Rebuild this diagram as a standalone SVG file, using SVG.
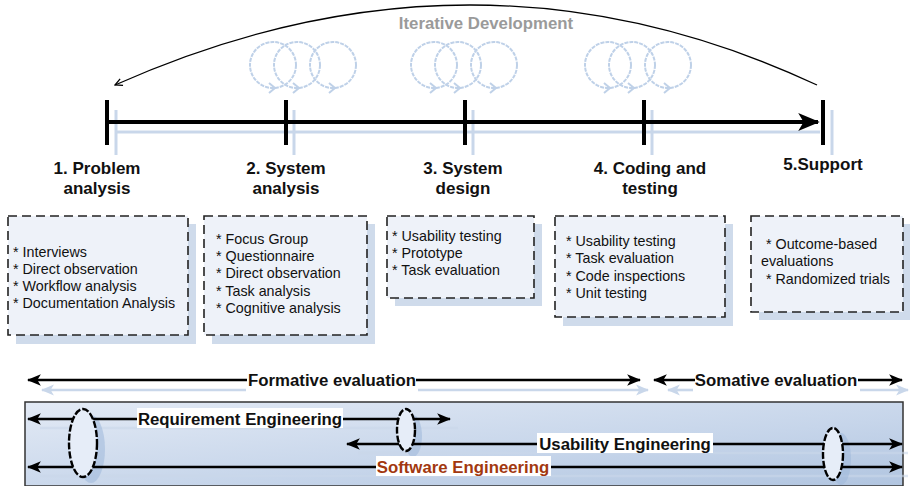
<svg xmlns="http://www.w3.org/2000/svg" width="910" height="486" viewBox="0 0 910 486">
  <defs>
    <style>
      .lbl { font-family: "Liberation Sans", Arial, sans-serif; font-weight: bold; font-size: 17px; fill: #111; text-anchor: middle; }
      .item { font-family: "Liberation Sans", Arial, sans-serif; font-size: 14.3px; fill: #111; }
      .band { font-family: "Liberation Sans", Arial, sans-serif; font-weight: bold; font-size: 16.8px; fill: #111; }
      .box { fill: #eef2f9; stroke: #222; stroke-width: 1.6; stroke-dasharray: 9 5; }
      .boxshadow { fill: #cfdbeb; }
      .tick { stroke: #000; stroke-width: 4; }
      .tickshadow { stroke: #c9d7ea; stroke-width: 3; }
      .loop { fill: none; stroke: #bfd1e8; stroke-width: 2; stroke-dasharray: 4 1; }
      .chev { fill: none; stroke: #bfd1e8; stroke-width: 2; }
      .arrow { stroke: #000; stroke-width: 2.6; fill: none; }
      .ashadow { stroke: #c9d7ea; stroke-width: 2.6; fill: none; }
      .lens { fill: #e6edf8; stroke: #000; stroke-width: 2.4; stroke-dasharray: 7 2; }
      .lensshadow { fill: #9fb8da; opacity: 0.55; }
    </style>
    <marker id="tri" viewBox="0 0 12 10" refX="11" refY="5" markerWidth="5.4" markerHeight="5" orient="auto-start-reverse" markerUnits="strokeWidth">
      <path d="M0,0 L12,5 L0,10 L3,5 Z" fill="#000"/>
    </marker>
    <marker id="trilight" viewBox="0 0 12 10" refX="11" refY="5" markerWidth="5" markerHeight="4.6" orient="auto-start-reverse" markerUnits="strokeWidth">
      <path d="M0,0 L12,5 L0,10 L3,5 Z" fill="#c9d7ea"/>
    </marker>
    <marker id="open" viewBox="0 0 10 10" refX="9" refY="5" markerWidth="9" markerHeight="9" orient="auto" markerUnits="userSpaceOnUse">
      <path d="M1,1 L9,5 L1,9" fill="none" stroke="#000" stroke-width="1.4"/>
    </marker>
    <linearGradient id="bandfill" x1="0" y1="0" x2="1" y2="1">
      <stop offset="0" stop-color="#e3eaf5"/>
      <stop offset="0.6" stop-color="#c6d5ea"/>
      <stop offset="1" stop-color="#b1c5e0"/>
    </linearGradient>
    <g id="loops">
      <circle class="loop" cx="0" cy="0" r="23"/>
      <circle class="loop" cx="24" cy="0" r="23"/>
      <circle class="loop" cx="60" cy="0" r="23"/>
      <path class="chev" d="M-4,18 L2,23 L-4,28"/>
      <path class="chev" d="M20,18 L26,23 L20,28"/>
      <path class="chev" d="M56,18 L62,23 L56,28"/>
    </g>
  </defs>

  <rect width="910" height="486" fill="#fff"/>

  <!-- iteration loops -->
  <use href="#loops" x="273" y="65"/>
  <use href="#loops" x="434" y="65"/>
  <use href="#loops" x="608" y="65"/>

  <!-- iterative development arc -->
  <g id="iterative">
    <path d="M817,85 Q474,-75 115,85" fill="none" stroke="#000" stroke-width="1.3" marker-end="url(#open)"/>
    <text x="486" y="29" text-anchor="middle" font-family="'Liberation Sans', Arial, sans-serif" font-weight="bold" font-size="16.8" fill="#9a9a9a">Iterative Development</text>
  </g>

  <!-- timeline -->
  <g id="timeline">
    <line x1="116" y1="132" x2="820" y2="132" stroke="#c9d7ea" stroke-width="3"/>
    <line class="tickshadow" x1="116" y1="110" x2="116" y2="155"/>
    <line class="tickshadow" x1="294" y1="110" x2="294" y2="155"/>
    <line class="tickshadow" x1="473" y1="110" x2="473" y2="155"/>
    <line class="tickshadow" x1="652" y1="110" x2="652" y2="155"/>
    <line class="tickshadow" x1="832" y1="110" x2="832" y2="155"/>
    <line x1="107" y1="122" x2="818" y2="122" stroke="#000" stroke-width="4" marker-end="url(#tri)"/>
    <line class="tick" x1="107" y1="100" x2="107" y2="145"/>
    <line class="tick" x1="286" y1="100" x2="286" y2="145"/>
    <line class="tick" x1="465" y1="100" x2="465" y2="145"/>
    <line class="tick" x1="644" y1="100" x2="644" y2="145"/>
    <line class="tick" x1="823" y1="100" x2="823" y2="145"/>
  </g>

  <!-- phases -->
  <g id="phase1">
    <text class="lbl" x="97" y="174">1. Problem</text>
    <text class="lbl" x="97" y="194">analysis</text>
    <rect class="boxshadow" x="16" y="224" width="180" height="120"/>
    <rect class="box" x="8" y="216" width="180" height="119"/>
    <text class="item" x="13" y="257">* Interviews</text>
    <text class="item" x="13" y="274">* Direct observation</text>
    <text class="item" x="13" y="291">* Workflow analysis</text>
    <text class="item" x="13" y="308">* Documentation Analysis</text>
  </g>
  <g id="phase2">
    <text class="lbl" x="286" y="174">2. System</text>
    <text class="lbl" x="286" y="194">analysis</text>
    <rect class="boxshadow" x="212" y="224" width="163" height="120"/>
    <rect class="box" x="204" y="216" width="163" height="119"/>
    <text class="item" x="216" y="244">* Focus Group</text>
    <text class="item" x="216" y="261">* Questionnaire</text>
    <text class="item" x="216" y="278">* Direct observation</text>
    <text class="item" x="216" y="296">* Task analysis</text>
    <text class="item" x="216" y="313">* Cognitive analysis</text>
  </g>
  <g id="phase3">
    <text class="lbl" x="463" y="174">3. System</text>
    <text class="lbl" x="463" y="194">design</text>
    <rect class="boxshadow" x="395" y="224" width="147" height="82"/>
    <rect class="box" x="387" y="216" width="147" height="82"/>
    <text class="item" x="392" y="241">* Usability testing</text>
    <text class="item" x="392" y="258">* Prototype</text>
    <text class="item" x="392" y="275">* Task evaluation</text>
  </g>
  <g id="phase4">
    <text class="lbl" x="650" y="174">4. Coding and</text>
    <text class="lbl" x="650" y="194">testing</text>
    <rect class="boxshadow" x="563" y="224" width="170" height="102"/>
    <rect class="box" x="555" y="216" width="170" height="101"/>
    <text class="item" x="566" y="246">* Usability testing</text>
    <text class="item" x="566" y="263">* Task evaluation</text>
    <text class="item" x="566" y="281">* Code inspections</text>
    <text class="item" x="566" y="298">* Unit testing</text>
  </g>
  <g id="phase5">
    <text class="lbl" x="823" y="170">5.Support</text>
    <rect class="boxshadow" x="759" y="224" width="152" height="96"/>
    <rect class="box" x="751" y="216" width="152" height="96"/>
    <text class="item" x="766" y="249">* Outcome-based</text>
    <text class="item" x="761" y="266">evaluations</text>
    <text class="item" x="766" y="284">* Randomized trials</text>
  </g>

  <!-- evaluation spans -->
  <g id="evaluation">
    <line class="ashadow" x1="42" y1="390" x2="246" y2="390" marker-start="url(#trilight)"/>
    <line class="ashadow" x1="418" y1="390" x2="648" y2="390" marker-end="url(#trilight)"/>
    <line class="ashadow" x1="668" y1="390" x2="693" y2="390" marker-start="url(#trilight)"/>
    <line class="ashadow" x1="860" y1="390" x2="908" y2="390" marker-end="url(#trilight)"/>
    <line class="arrow" x1="28" y1="380" x2="247" y2="380" marker-start="url(#tri)"/>
    <line class="arrow" x1="416" y1="380" x2="640" y2="380" marker-end="url(#tri)"/>
    <text class="band" x="332" y="386" text-anchor="middle">Formative evaluation</text>
    <line class="arrow" x1="654" y1="380" x2="695" y2="380" marker-start="url(#tri)"/>
    <line class="arrow" x1="858" y1="380" x2="902" y2="380" marker-end="url(#tri)"/>
    <text class="band" x="776" y="386" text-anchor="middle">Somative evaluation</text>
  </g>

  <!-- engineering band -->
  <g id="engineering">
    <rect x="25" y="402" width="878" height="84" fill="url(#bandfill)" stroke="#333" stroke-width="1.5"/>
    <!-- soft shadow strokes -->
    <line class="ashadow" x1="40" y1="428" x2="458" y2="428" stroke="#9fb8da" opacity="0.6"/>
    <line class="ashadow" x1="358" y1="453" x2="908" y2="453" stroke="#9fb8da" opacity="0.6"/>
    <line class="ashadow" x1="40" y1="476" x2="908" y2="476" stroke="#9fb8da" opacity="0.6"/>
    <ellipse class="lensshadow" cx="91" cy="449" rx="14" ry="34"/>
    <ellipse class="lensshadow" cx="413" cy="436" rx="9" ry="21"/>
    <ellipse class="lensshadow" cx="841" cy="459" rx="10" ry="26"/>

    <line class="arrow" x1="28" y1="419" x2="450" y2="419" marker-start="url(#tri)" marker-end="url(#tri)"/>
    <rect x="137" y="408" width="206" height="20" fill="#fff"/>
    <text class="band" x="240" y="425" text-anchor="middle">Requirement Engineering</text>

    <line class="arrow" x1="347" y1="444" x2="902" y2="444" marker-start="url(#tri)" marker-end="url(#tri)"/>
    <rect x="537" y="433" width="176" height="20" fill="#fff"/>
    <text class="band" x="625" y="450" text-anchor="middle">Usability Engineering</text>

    <line class="arrow" x1="28" y1="467" x2="902" y2="467" marker-start="url(#tri)" marker-end="url(#tri)"/>
    <rect x="376" y="456" width="175" height="20" fill="#fff"/>
    <text class="band" x="463" y="473" text-anchor="middle" style="fill:#a2380f">Software Engineering</text>

    <ellipse class="lens" cx="83" cy="443" rx="14" ry="34"/>
    <ellipse class="lens" cx="406" cy="430" rx="9" ry="21"/>
    <ellipse class="lens" cx="833" cy="454" rx="10" ry="26"/>
  </g>
</svg>
